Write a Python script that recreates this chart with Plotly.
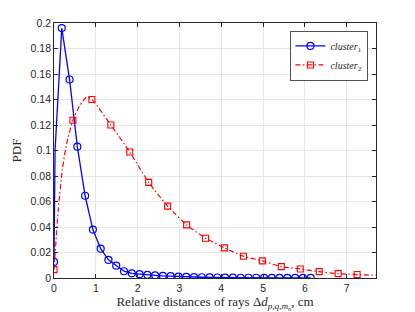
import plotly.graph_objects as go

# ---- data ----
blue_x = [0.0, 0.186, 0.372, 0.558, 0.744, 0.93, 1.116, 1.302, 1.488, 1.674, 1.86, 2.046,
          2.232, 2.418, 2.604, 2.79, 2.976, 3.162, 3.348, 3.534, 3.72, 3.906, 4.092, 4.278,
          4.464, 4.65, 4.836, 5.022, 5.208, 5.394, 5.58, 5.766, 5.952, 6.138]
blue_y = [0.0126, 0.196, 0.1557, 0.103, 0.0645, 0.038, 0.023, 0.0142, 0.0097, 0.0053, 0.0037, 0.003,
          0.0025, 0.0021, 0.0017, 0.0014, 0.0011, 0.0009, 0.0007, 0.0006, 0.0005, 0.0004, 0.0003, 0.0003,
          0.0002, 0.0002, 0.0002, 0.0001, 0.0001, 0.0001, 0.0001, 0.0001, 0.0001, 0.0001]
# extra points of the underlying (denser) blue curve
blue_curve_extra_x = [0.025]
blue_curve_extra_y = [0.1]

red_x = [0.0, 0.453, 0.906, 1.359, 1.812, 2.265, 2.718, 3.171, 3.624, 4.077, 4.53, 4.983,
         5.436, 5.889, 6.342, 6.795, 7.248]
red_y = [0.0066, 0.1237, 0.140, 0.120, 0.0988, 0.075, 0.0564, 0.0417, 0.0312, 0.0236, 0.0171, 0.0134,
         0.0089, 0.0071, 0.005, 0.0034, 0.0027]
# extra points of the underlying (denser) red curve
red_curve_extra_x = [0.05, 0.1, 0.2, 0.3, 0.62, 0.78, 7.7]
red_curve_extra_y = [0.03, 0.053, 0.085, 0.105, 0.1355, 0.1418, 0.0022]

x_ticks = [0, 1, 2, 3, 4, 5, 6, 7]
y_ticks = [0, 0.02, 0.04, 0.06, 0.08, 0.1, 0.12, 0.14, 0.16, 0.18, 0.2]
y_tick_labels = ["0", "0.02", "0.04", "0.06", "0.08", "0.1", "0.12", "0.14", "0.16", "0.18", "0.2"]

names = ["<i>cluster</i><sub>1</sub>", "<i>cluster</i><sub>2</sub>"]

BLUE = "#0000ff"
RED = "#ff0000"
RED_DASH = "5px,2.5px,1.5px,2.5px"


def merge(xa, ya, xb, yb):
    pts = sorted(zip(list(xa) + list(xb), list(ya) + list(yb)))
    return [p[0] for p in pts], [p[1] for p in pts]


bcx, bcy = merge(blue_x, blue_y, blue_curve_extra_x, blue_curve_extra_y)
rcx, rcy = merge(red_x, red_y, red_curve_extra_x, red_curve_extra_y)

fig = go.Figure()

# curves
fig.add_trace(go.Scatter(x=bcx, y=bcy, mode="lines", line=dict(color=BLUE, width=1.3),
                         showlegend=False, hoverinfo="skip"))
fig.add_trace(go.Scatter(x=rcx, y=rcy, mode="lines",
                         line=dict(color=RED, width=1.2, dash=RED_DASH, shape="spline", smoothing=0.6),
                         showlegend=False, hoverinfo="skip"))
# markers
fig.add_trace(go.Scatter(x=blue_x, y=blue_y, mode="markers",
                         marker=dict(symbol="circle-open", size=7, color=BLUE, line=dict(width=1.2)),
                         showlegend=False))
fig.add_trace(go.Scatter(x=red_x, y=red_y, mode="markers",
                         marker=dict(symbol="square-open", size=6, color=RED, line=dict(width=1.1)),
                         showlegend=False))
# legend entries
fig.add_trace(go.Scatter(x=[None], y=[None], mode="lines+markers", name=names[0],
                         line=dict(color=BLUE, width=1.3),
                         marker=dict(symbol="circle-open", size=7, color=BLUE, line=dict(width=1.2))))
fig.add_trace(go.Scatter(x=[None], y=[None], mode="lines+markers", name=names[1],
                         line=dict(color=RED, width=1.2, dash=RED_DASH),
                         marker=dict(symbol="square-open", size=6, color=RED, line=dict(width=1.1))))

axis_common = dict(
    showline=True, linecolor="#262626", linewidth=0.8, mirror="ticks",
    ticks="inside", ticklen=4, tickcolor="#262626", tickwidth=0.8,
    showgrid=True, gridcolor="#e6e6e6", gridwidth=0.8, zeroline=False,
    tickfont=dict(family="Liberation Sans, Arial, sans-serif", size=10.5, color="#262626"),
)

fig.update_xaxes(range=[0, 7.7], tickmode="array", tickvals=x_ticks,
                 title=dict(text="Relative distances of rays Δ<i>d</i><sub><i>p,q,m<sub>n</sub></i></sub>, cm",
                            font=dict(family="Liberation Serif, Times New Roman, serif", size=13, color="#262626"),
                            standoff=4),
                 **axis_common)
fig.update_yaxes(range=[0, 0.2], tickmode="array", tickvals=y_ticks, ticktext=y_tick_labels,
                 title=dict(text="PDF",
                            font=dict(family="Liberation Serif, Times New Roman, serif", size=13, color="#262626"),
                            standoff=6),
                 **axis_common)

fig.update_layout(
    width=415, height=312,
    margin=dict(l=54, r=39, t=23, b=34, autoexpand=False),
    paper_bgcolor="white", plot_bgcolor="white",
    legend=dict(x=0.974, y=0.97, xanchor="right", yanchor="top",
                bgcolor="white", bordercolor="#262626", borderwidth=0.8,
                font=dict(family="Liberation Serif, Times New Roman, serif", size=10, color="#262626"),
                tracegroupgap=0, itemwidth=30),
    showlegend=True,
)

fig.write_html("out.html", config={"displayModeBar": False},
               post_script="document.body.style.margin='0px';")
